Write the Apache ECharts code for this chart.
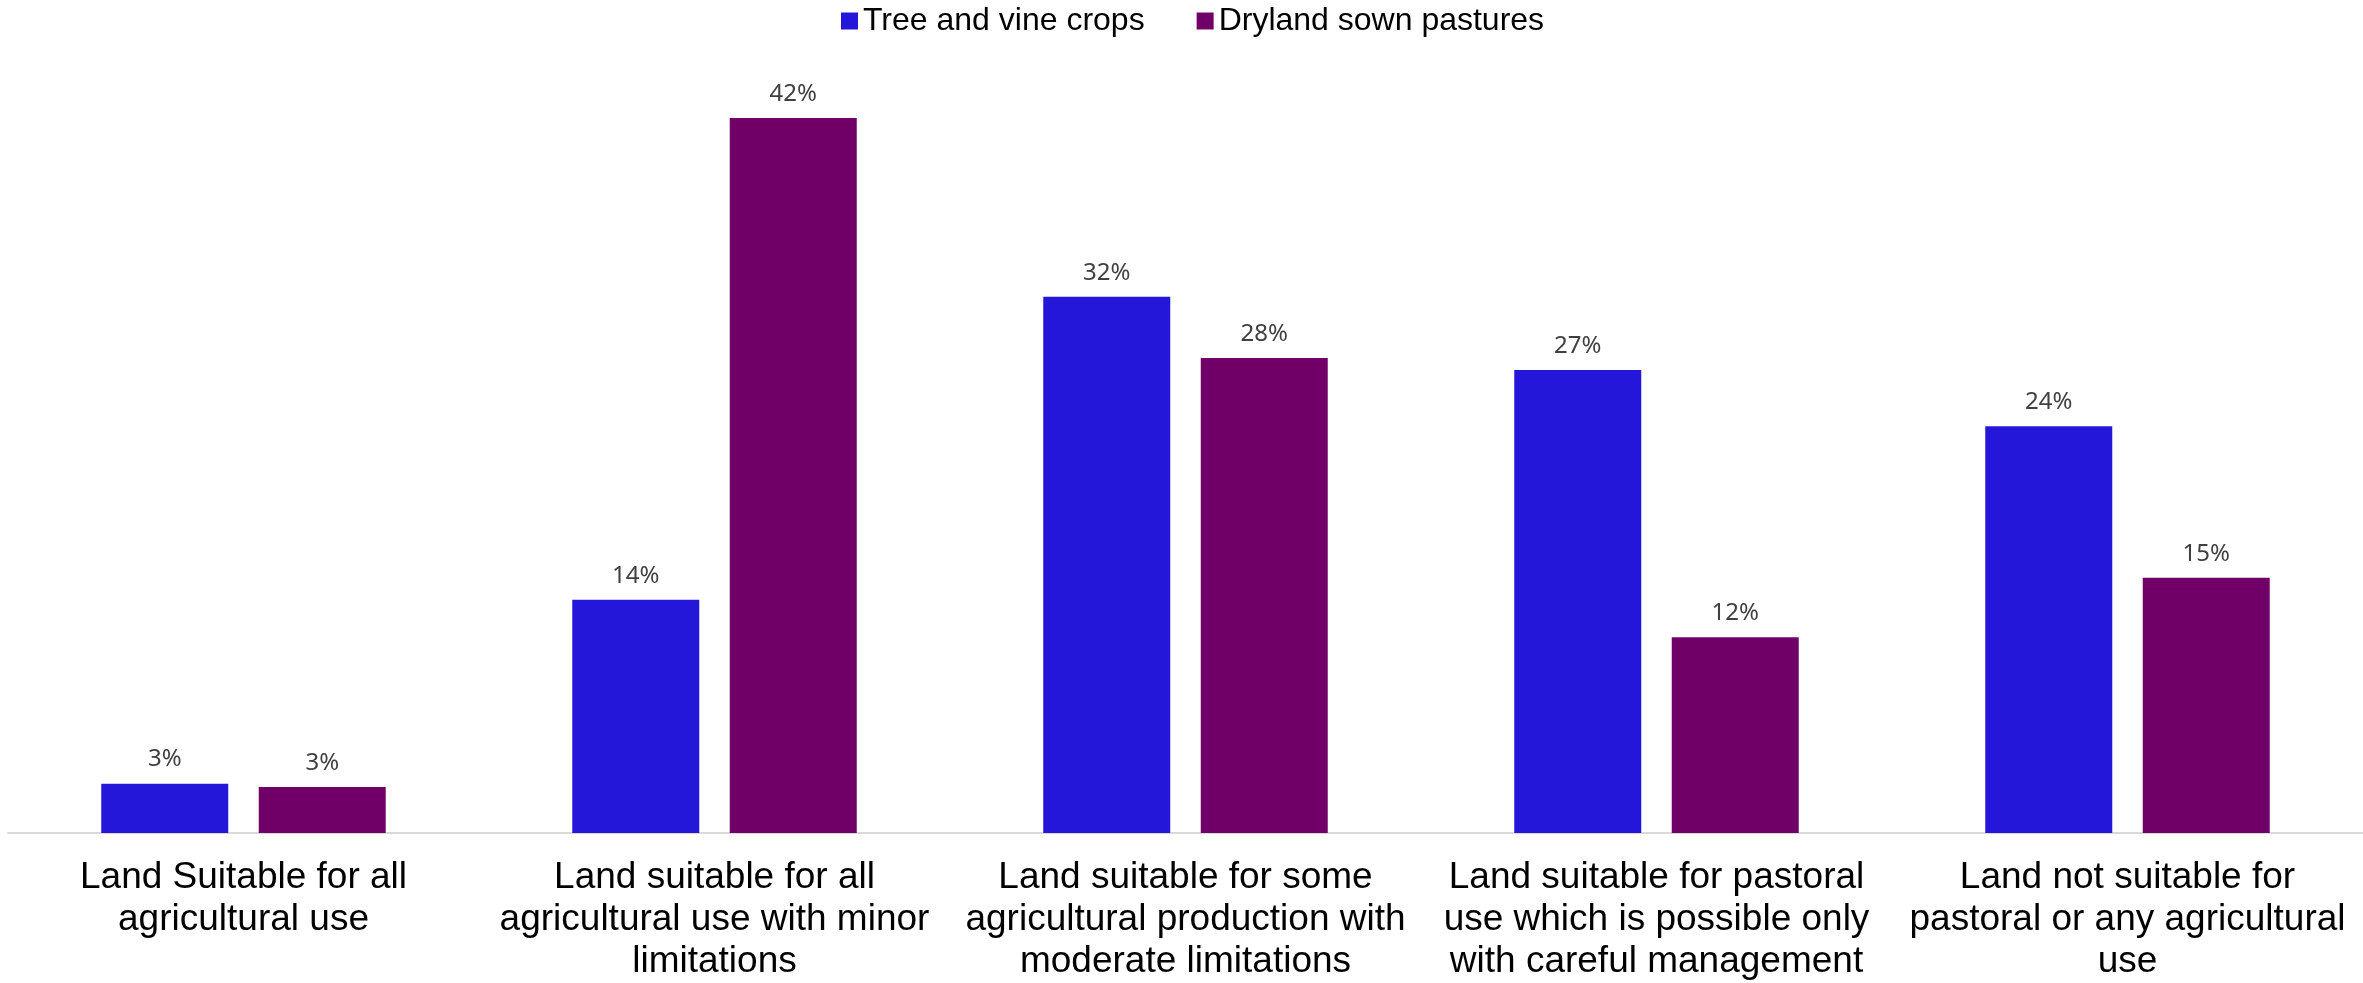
<!DOCTYPE html>
<html>
<head>
<meta charset="utf-8">
<style>
  html, body { margin: 0; padding: 0; background: #ffffff; }
  #chart { width: 2363px; height: 983px; }
</style>
<script src="https://cdn.jsdelivr.net/npm/echarts@6/dist/echarts.min.js"></script>
</head>
<body>
<div id="chart"></div>
<script>
const categories = [
  "Land Suitable for all agricultural use",
  "Land suitable for all agricultural use with minor limitations",
  "Land suitable for some agricultural production with moderate limitations",
  "Land suitable for pastoral use which is possible only with careful management",
  "Land not suitable for pastoral or any agricultural use"
];
const tickLabels = [
  "Land Suitable for all\nagricultural use",
  "Land suitable for all\nagricultural use with minor\nlimitations",
  "Land suitable for some\nagricultural production with\nmoderate limitations",
  "Land suitable for pastoral\nuse which is possible only\nwith careful management",
  "Land not suitable for\npastoral or any agricultural\nuse"
];
const seriesNames = ["Tree and vine crops", "Dryland sown pastures"];
const treeAndVine = [2.9, 13.7, 31.5, 27.2, 23.9];
const drylandPastures = [2.7, 42.0, 27.9, 11.5, 15.0];
const colors = ["#2417DA", "#700068"];

const chart = echarts.init(document.getElementById('chart'));
const labelStyle = {
  show: true,
  position: 'top',
  distance: 12,
  fontFamily: 'Noto Sans',
  fontSize: 24,
  color: '#404040',
  formatter: p => Math.round(p.value) + '%'
};
chart.setOption({
  animation: false,
  backgroundColor: '#ffffff',
  legend: {
    top: 0,
    left: 836,
    itemWidth: 17,
    itemHeight: 17,
    itemGap: 52,
    icon: 'rect',
    textStyle: { fontFamily: 'Liberation Sans', fontSize: 32, color: '#000000' },
    data: seriesNames
  },
  grid: { left: 8, width: 2362, top: 67, bottom: 149, containLabel: false },
  xAxis: {
    type: 'category',
    data: categories,
    axisLine: { show: true, lineStyle: { color: '#d9d9d9', width: 2 } },
    axisTick: { show: false },
    axisLabel: {
      interval: 0,
      margin: 24,
      fontFamily: 'Liberation Sans',
      fontSize: 37,
      lineHeight: 42,
      color: '#000000',
      formatter: (v, i) => tickLabels[i]
    }
  },
  yAxis: {
    type: 'value',
    min: 0,
    max: 45,
    show: false,
    splitLine: { show: false }
  },
  series: [
    {
      name: seriesNames[0],
      type: 'bar',
      data: treeAndVine,
      barWidth: 127,
      barGap: '24%',
      itemStyle: { color: colors[0] },
      label: labelStyle
    },
    {
      name: seriesNames[1],
      type: 'bar',
      data: drylandPastures,
      barWidth: 127,
      barGap: '24%',
      itemStyle: { color: colors[1] },
      label: labelStyle
    }
  ]
});
</script>
</body>
</html>
